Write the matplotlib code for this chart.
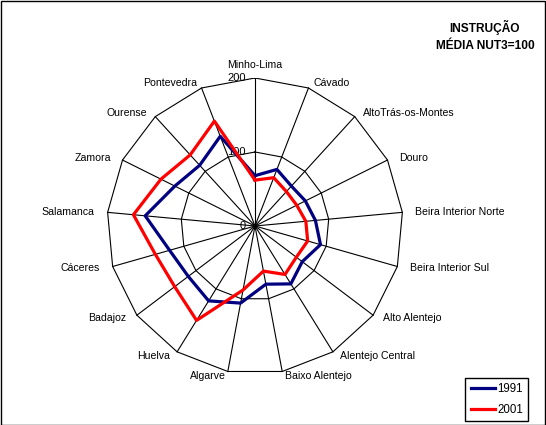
import numpy as np
import matplotlib.pyplot as plt
from matplotlib.patches import Rectangle

plt.rcParams['font.family'] = ['Liberation Sans', 'DejaVu Sans']

# regiões (NUT3 / províncias) e índice de instrução, média NUT3 = 100
regioes = ['Minho-Lima', 'Cávado', 'AltoTrás-os-Montes', 'Douro',
           'Beira Interior Norte', 'Beira Interior Sul', 'Alto Alentejo',
           'Alentejo Central', 'Baixo Alentejo', 'Algarve', 'Huelva',
           'Badajoz', 'Cáceres', 'Salamanca', 'Zamora', 'Ourense', 'Pontevedra']
v1991 = [68, 82, 73, 76, 82, 92, 80, 92, 80, 106, 119, 113, 120, 149, 121, 111, 130]
v2001 = [62, 70, 63, 63, 69, 74, 70, 77, 62, 88, 150, 136, 140, 165, 142, 130, 152]
grelha = [0, 100, 200]

n = len(regioes)
ang = np.arange(n) * 2 * np.pi / n


def xy(vals):
    vals = np.asarray(vals, dtype=float)
    x = vals * np.sin(ang)
    y = vals * np.cos(ang)
    return np.append(x, x[0]), np.append(y, y[0])


fig = plt.figure(figsize=(5.46, 4.25), dpi=100)
# área do gráfico: centro em (255, 226) px, raio 148 px
ax = fig.add_axes([(255 - 148) / 546, (425 - 226 - 148) / 425, 296 / 546, 296 / 425])
ax.set_xlim(-200, 200)
ax.set_ylim(-200, 200)
ax.set_aspect('equal')
ax.axis('off')

# grelha poligonal e raios
for g in grelha[1:]:
    gx, gy = xy([g] * n)
    ax.plot(gx, gy, color='black', lw=0.8, zorder=1)
for a in ang:
    ax.plot([0, 200 * np.sin(a)], [0, 200 * np.cos(a)], color='black', lw=0.8, zorder=1)

# rótulos do eixo radial
for g in grelha:
    ax.annotate(str(g), (0, g), xytext=(-9, 0), textcoords='offset pixels',
                ha='right', va='center', fontsize=8, zorder=2)

l1, = ax.plot(*xy(v1991), color='#000080', lw=2.3, zorder=3, label='1991')
l2, = ax.plot(*xy(v2001), color='#ff0000', lw=2.3, zorder=3, label='2001')

# rótulos das categorias
for nome, a in zip(regioes, ang):
    s, c = np.sin(a), np.cos(a)
    if abs(s) < 0.05:
        ha, dx, dy = 'center', 0, 13
    else:
        ha = 'left' if s > 0 else 'right'
        dx, dy = 13 * s, 5 * c
    ax.annotate(nome, (200 * s, 200 * c), xytext=(dx, dy),
                textcoords='offset pixels', ha=ha, va='center', fontsize=7.6)

fig.text(485 / 546, 1 - 36 / 425, 'INSTRUÇÃO\nMÉDIA NUT3=100', ha='center', va='center',
         fontsize=8.6, fontweight='bold', linespacing=1.45)

fig.legend(handles=[l1, l2], loc='upper right', bbox_to_anchor=(528 / 546, 1 - 378 / 425),
           fontsize=8.3, frameon=True, fancybox=False, edgecolor='black', framealpha=1,
           handlelength=2.1, handletextpad=0.2, borderpad=0.45, labelspacing=0.75,
           borderaxespad=0)

fig.patches.append(Rectangle((0.001, 0.001), 0.997, 0.997, transform=fig.transFigure,
                             fill=False, edgecolor='black', lw=1))

fig.savefig('out.png', dpi=100)
